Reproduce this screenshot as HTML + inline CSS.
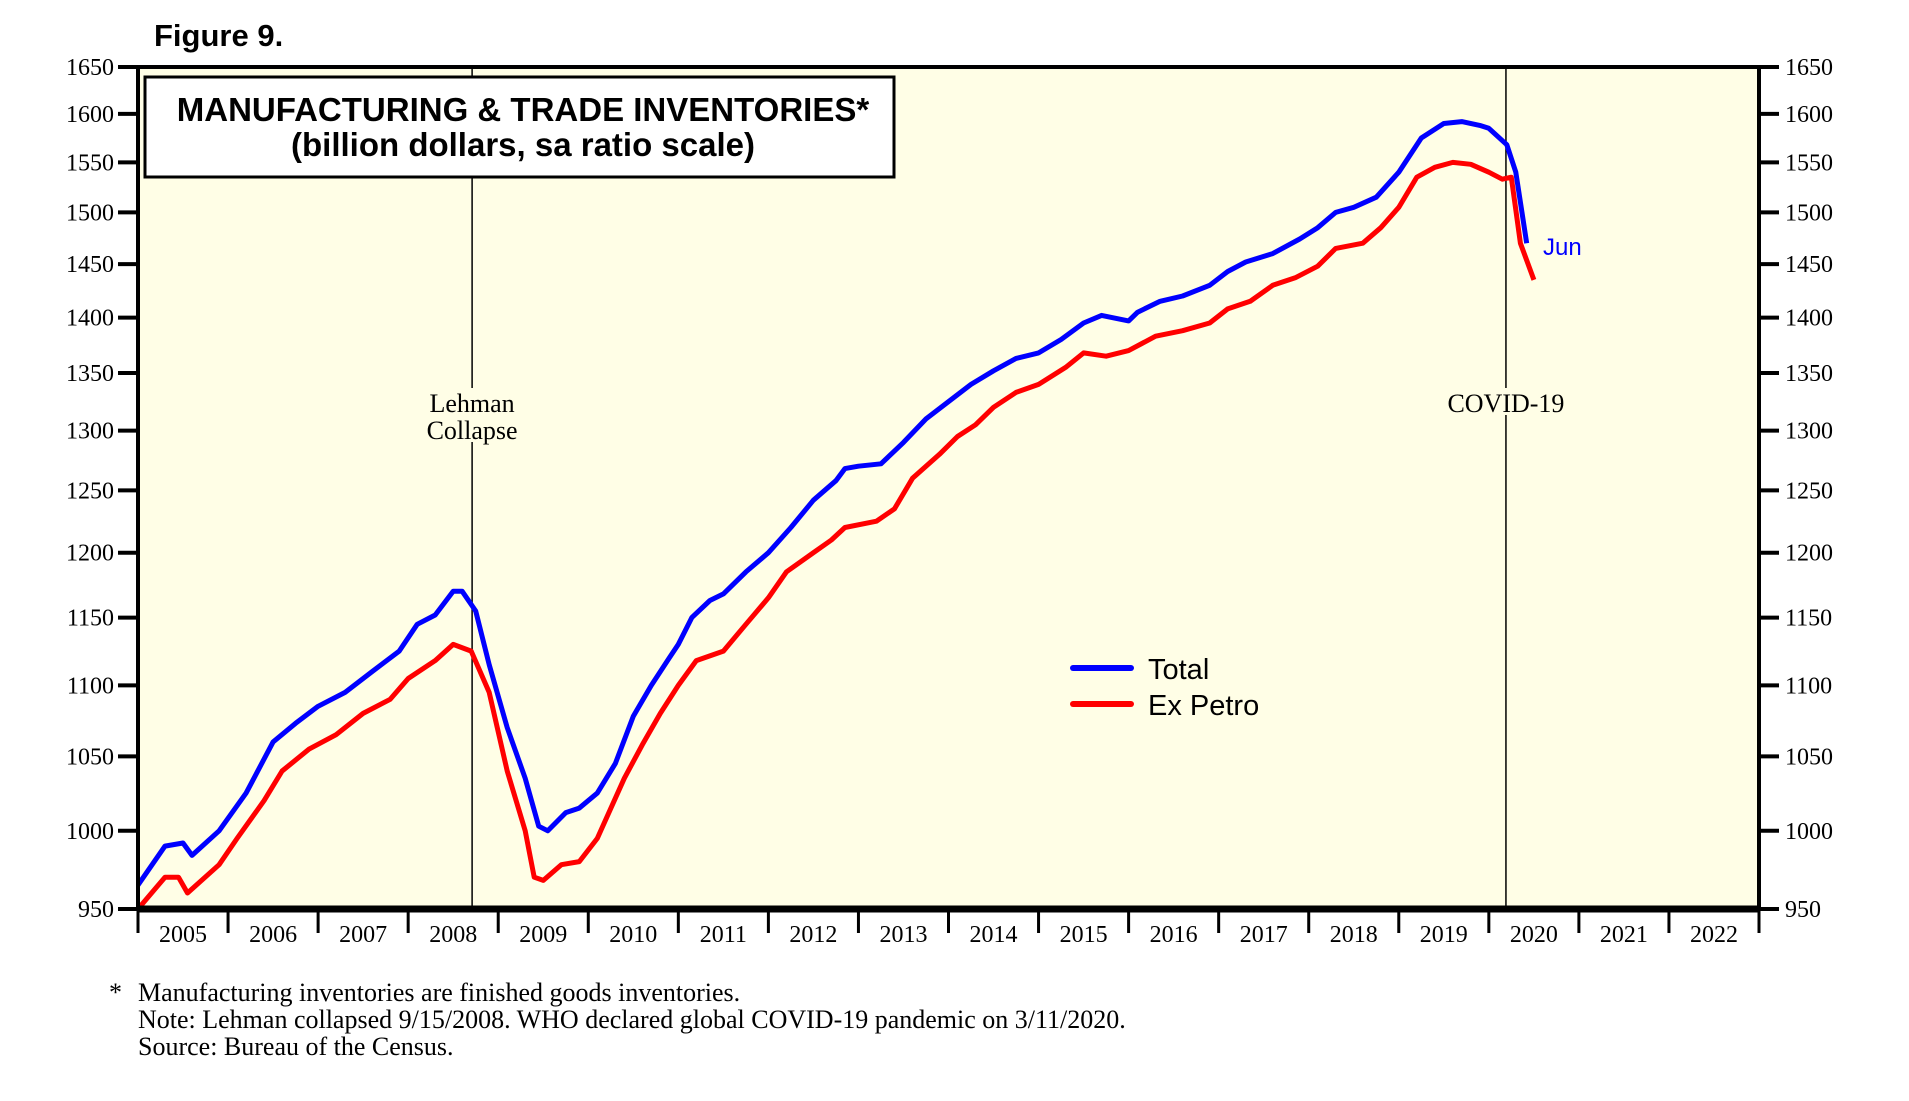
<!DOCTYPE html>
<html><head><meta charset="utf-8"><style>
html,body{margin:0;padding:0;background:#fff;}
svg{display:block;}
.tm{font-family:"Liberation Serif",serif;}
.sa{font-family:"Liberation Sans",sans-serif;}
</style></head><body>
<svg id="chart" width="1909" height="1101" viewBox="0 0 1909 1101" xmlns="http://www.w3.org/2000/svg">
<text x="154" y="46" class="sa" font-size="31" font-weight="bold">Figure 9.</text>
<rect x="138" y="67" width="1621" height="842" fill="#fffee6"/>
<g id="grid"></g>
<g id="series"></g>
<rect x="138" y="67" width="1621" height="842" fill="none" stroke="#000" stroke-width="4"/>
<line x1="138" y1="909" x2="1759" y2="909" stroke="#000" stroke-width="7"/>
<g id="axes"></g>
<rect x="145" y="77" width="749" height="100" fill="#fff" stroke="#000" stroke-width="3"/>
<text x="523" y="121" text-anchor="middle" class="sa" font-size="33" font-weight="bold">MANUFACTURING &amp; TRADE INVENTORIES*</text>
<text x="523" y="156" text-anchor="middle" class="sa" font-size="33" font-weight="bold">(billion dollars, sa ratio scale)</text>
<line x1="1073" y1="668" x2="1131" y2="668" stroke="#0000ff" stroke-width="6" stroke-linecap="round"/>
<text x="1148" y="679" class="sa" font-size="29">Total</text>
<line x1="1073" y1="704" x2="1131" y2="704" stroke="#ff0000" stroke-width="6" stroke-linecap="round"/>
<text x="1148" y="715" class="sa" font-size="29">Ex Petro</text>
<text x="1543" y="255" class="sa" font-size="24" fill="#0000ff">Jun</text>
<g class="tm" font-size="26">
<text x="109" y="1001">*</text>
<text x="138" y="1001">Manufacturing inventories are finished goods inventories.</text>
<text x="138" y="1028">Note: Lehman collapsed 9/15/2008. WHO declared global COVID-19 pandemic on 3/11/2020.</text>
<text x="138" y="1055">Source: Bureau of the Census.</text>
</g>
</svg>
<script>
const yTicks=[950,1000,1050,1100,1150,1200,1250,1300,1350,1400,1450,1500,1550,1600,1650];
const years=[2005,2006,2007,2008,2009,2010,2011,2012,2013,2014,2015,2016,2017,2018,2019,2020,2021,2022];
const events=[{t:2008.71,label:["Lehman","Collapse"],name:"lehman"},{t:2020.19,label:["COVID-19"],name:"covid"}];
const totalDates=[2005.0,2005.3,2005.5,2005.6,2005.9,2006.2,2006.5,2006.75,2007.0,2007.3,2007.6,2007.9,2008.1,2008.3,2008.5,2008.6,2008.75,2008.9,2009.1,2009.3,2009.45,2009.55,2009.75,2009.9,2010.1,2010.3,2010.5,2010.7,2010.9,2011.0,2011.15,2011.35,2011.5,2011.75,2012.0,2012.25,2012.5,2012.75,2012.85,2013.0,2013.25,2013.5,2013.75,2014.0,2014.25,2014.5,2014.75,2015.0,2015.25,2015.5,2015.7,2016.0,2016.1,2016.35,2016.6,2016.9,2017.1,2017.3,2017.6,2017.9,2018.1,2018.3,2018.5,2018.75,2019.0,2019.25,2019.5,2019.7,2019.9,2020.0,2020.2,2020.3,2020.42];
const totalValues=[965,990,992,984,1000,1025,1060,1073,1085,1095,1110,1125,1145,1152,1170,1170,1155,1115,1070,1035,1003,1000,1012,1015,1025,1045,1078,1100,1120,1130,1150,1163,1168,1185,1200,1220,1242,1258,1268,1270,1272,1290,1310,1325,1340,1352,1363,1368,1380,1395,1402,1397,1405,1415,1420,1430,1443,1452,1460,1474,1485,1500,1505,1515,1540,1575,1590,1592,1588,1585,1568,1540,1470];
const exDates=[2005.0,2005.3,2005.45,2005.55,2005.9,2006.1,2006.4,2006.6,2006.9,2007.2,2007.5,2007.8,2008.0,2008.3,2008.5,2008.7,2008.9,2009.1,2009.3,2009.4,2009.5,2009.7,2009.9,2010.1,2010.4,2010.6,2010.8,2011.0,2011.2,2011.5,2011.75,2012.0,2012.2,2012.5,2012.7,2012.85,2013.2,2013.4,2013.6,2013.9,2014.1,2014.3,2014.5,2014.75,2015.0,2015.3,2015.5,2015.75,2016.0,2016.3,2016.6,2016.9,2017.1,2017.35,2017.6,2017.85,2018.1,2018.3,2018.6,2018.8,2019.0,2019.2,2019.4,2019.6,2019.8,2020.0,2020.15,2020.25,2020.35,2020.5];
const exValues=[950,970,970,960,978,995,1020,1040,1055,1065,1080,1090,1105,1118,1130,1125,1095,1040,1000,970,968,978,980,995,1035,1058,1080,1100,1118,1125,1145,1165,1185,1200,1210,1220,1225,1235,1260,1280,1295,1305,1320,1333,1340,1355,1368,1365,1370,1383,1388,1395,1408,1415,1430,1437,1448,1465,1470,1485,1505,1535,1545,1550,1548,1540,1533,1535,1470,1435];

const NS="http://www.w3.org/2000/svg";
const L=138,R=1759,T=67,B=909,yMin=950,yMax=1650,x0=2005,x1=2023;
function xS(t){return L+(t-x0)/(x1-x0)*(R-L);}
function yS(v){return B-Math.log(v/yMin)/Math.log(yMax/yMin)*(B-T);}
function mk(tag,attrs,parent){const e=document.createElementNS(NS,tag);for(const k in attrs)e.setAttribute(k,attrs[k]);parent.appendChild(e);return e;}
const axes=document.getElementById('axes'),grid=document.getElementById('grid'),series=document.getElementById('series');
yTicks.forEach(v=>{
  const y=yS(v);
  const t1=mk('line',{x1:L-20,x2:L,y1:y,y2:y,stroke:'#000','stroke-width':4},axes);
  
  
  const t2=mk('line',{x1:R,x2:R+20,y1:y,y2:y,stroke:'#000','stroke-width':4},axes);
  
  
  const a=mk('text',{x:L-24,y:y+8,'text-anchor':'end','class':'tm','font-size':24},axes);a.textContent=v;
  
  
  const b=mk('text',{x:R+26,y:y+8,'class':'tm','font-size':24},axes);b.textContent=v;
  
  
});
years.forEach(yr=>{
  const x=xS(yr);
  const tk=mk('line',{x1:x,x2:x,y1:B,y2:B+24,stroke:'#000','stroke-width':3},axes);
  
  
  const lb=mk('text',{x:xS(yr+0.5),y:B+33,'text-anchor':'middle','class':'tm','font-size':24},axes);lb.textContent=yr;
  
  
});
const lastTk=mk('line',{x1:R,x2:R,y1:B,y2:B+24,stroke:'#000','stroke-width':3},axes);


events.forEach(ev=>{
  const x=xS(ev.t);
  const ln=mk('line',{x1:x,x2:x,y1:T,y2:B,stroke:'#000','stroke-width':1.5},grid);
  
  
  ev.label.forEach((s,i)=>{
    const bg=mk('rect',{x:x-55,y:388+i*27,width:110,height:27,fill:'#fffee6'},grid);
    
    
    const tx=mk('text',{x:x,y:412+i*27,'text-anchor':'middle','class':'tm','font-size':26},grid);tx.textContent=s;
    
    
  });
});
function drawLine(d,v,color,name){
  const pts=d.map((t,i)=>xS(t).toFixed(1)+','+yS(v[i]).toFixed(1)).join(' ');
  const p=mk('polyline',{points:pts,fill:'none',stroke:color,'stroke-width':5,'stroke-linejoin':'round'},series);
  
  
}
drawLine(exDates,exValues,'#ff0000','ex-petro-line');
drawLine(totalDates,totalValues,'#0000ff','total-line');
</script>
</body></html>
